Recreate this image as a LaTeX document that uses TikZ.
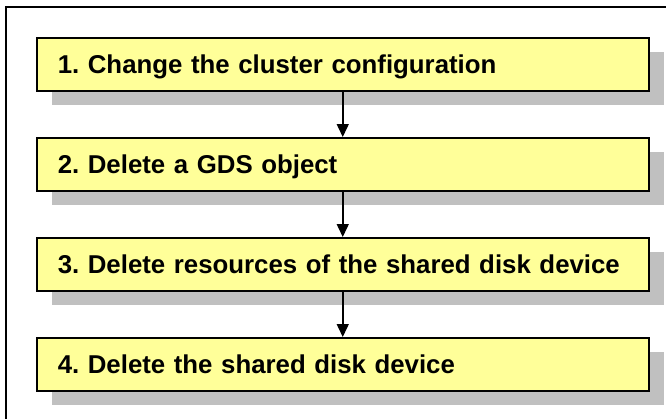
\documentclass[tikz,border=0pt]{standalone}
\usepackage{fontspec}
\setmainfont{Liberation Sans}
\usepackage{xcolor}
\usepackage{tikz}
\usetikzlibrary{arrows.meta,positioning,shadows}
\frenchspacing
\definecolor{stepfill}{HTML}{FFFF99}
\definecolor{stepshade}{HTML}{C0C0C0}
\definecolor{stepink}{HTML}{000000}
\tikzset{
  stepbox/.style={rectangle,draw=stepink,line width=1.5pt,fill=stepfill,
                  minimum width=612pt,minimum height=53pt,inner xsep=21pt,inner ysep=0pt,
                  text width=570pt,align=left,text height=19pt,text depth=1pt,
                  font=\bfseries\fontsize{25.8}{30}\selectfont,text=stepink,
                  drop shadow={shadow xshift=15pt,shadow yshift=-14pt,fill=stepshade,opacity=1}},
  flow/.style={-{Triangle[length=13pt,width=12pt]},line width=1.5pt,draw=stepink},
}
\begin{document}
\begin{tikzpicture}[x=1pt,y=-1pt,node distance=45.5pt]
  \useasboundingbox (0,0) rectangle (666,418);
  \fill[white] (0,0) rectangle (666,418);
  \draw[stepink,line width=2pt] (680,6.5) -- (5.5,6.5) -- (5.5,430);
  \node[stepbox,anchor=north west] (change) at (36,37) {1. Change the cluster configuration};
  \node[stepbox,below=of change] (gds) {2. Delete a GDS object};
  \node[stepbox,below=of gds] (resources) {3. Delete resources of the shared disk device};
  \node[stepbox,below=of resources] (device) {4. Delete the shared disk device};
  \draw[flow] (change) -- (gds);
  \draw[flow] (gds) -- (resources);
  \draw[flow] (resources) -- (device);
\end{tikzpicture}
\end{document}
